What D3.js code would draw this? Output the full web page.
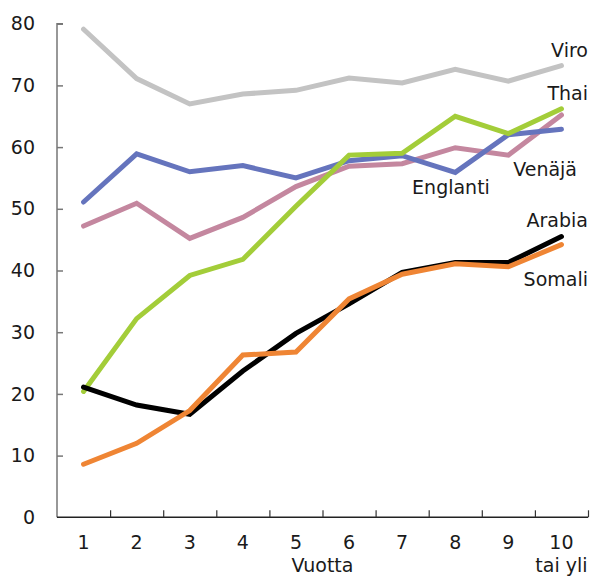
<!DOCTYPE html>
<html><head><meta charset="utf-8">
<script src="https://cdn.jsdelivr.net/npm/d3@7"></script>
<style>body{margin:0;background:#fff}svg{display:block}text{font-family:"DejaVu Sans",sans-serif;fill:#1a1a1a}</style>
</head><body><svg id="c" width="590" height="576"></svg>
<script>
const categories = ["1","2","3","4","5","6","7","8","9","10"];
const yTicks = [0,10,20,30,40,50,60,70,80];
const viro     = [79.1, 71.1, 67.0, 68.6, 69.2, 71.2, 70.4, 72.6, 70.7, 73.2];
const venaja   = [47.2, 50.9, 45.2, 48.6, 53.6, 56.9, 57.3, 59.9, 58.7, 65.2];
const englanti = [51.1, 58.9, 56.0, 57.0, 55.0, 57.8, 58.6, 55.9, 62.0, 62.9];
const thai     = [20.4, 32.2, 39.2, 41.8, 50.4, 58.7, 59.0, 65.0, 62.2, 66.2];
const arabia   = [21.1, 18.2, 16.7, 23.7, 29.8, 34.6, 39.7, 41.3, 41.3, 45.5];
const somali   = [8.6, 12.0, 17.3, 26.3, 26.8, 35.4, 39.4, 41.1, 40.6, 44.2];

const series = [
  {name:"Viro", values:viro, color:"#c3c3c3"},
  {name:"Venäjä", values:venaja, color:"#c4879f"},
  {name:"Englanti", values:englanti, color:"#6574bd"},
  {name:"Thai", values:thai, color:"#a3cd39"},
  {name:"Arabia", values:arabia, color:"#000000"},
  {name:"Somali", values:somali, color:"#ef8534"}
];
const labels = [
  {name:"Viro", x:588, y:57, anchor:"end"},
  {name:"Thai", x:588, y:100, anchor:"end"},
  {name:"Venäjä", x:577, y:176, anchor:"end"},
  {name:"Englanti", x:451, y:194, anchor:"middle"},
  {name:"Arabia", x:588, y:227, anchor:"end"},
  {name:"Somali", x:588, y:286, anchor:"end"}
];

const svg = d3.select("#c");
const L = 57, R = 588, T = 23.7, B = 517.3;
const x = d3.scaleBand().domain(categories).range([L, R]).padding(0);
const xb = d3.scaleLinear().domain([0, categories.length]).range([L, R]);
const y = d3.scaleLinear().domain([0, 80]).range([B, T]);

// y axis
const ya = svg.append("g").attr("transform", `translate(${L},0)`)
  .call(d3.axisRight(y).tickValues(yTicks).tickSize(6).tickFormat(""));
ya.select(".domain").attr("stroke", "#777").attr("stroke-width", 1.5).attr("d", `M6,${T}H0V${B}`);
ya.selectAll(".tick line").attr("stroke", "#777").attr("stroke-width", 1.5);
ya.selectAll(".tick").filter(d => d === 0).remove();
svg.append("g").selectAll("text").data(yTicks).join("text")
  .attr("x", 35).attr("y", d => y(d)).attr("dy", "0.35em")
  .attr("text-anchor", "end").style("font-size", "19px").text(d => d);

// x axis ticks at boundaries
const xa = svg.append("g").attr("transform", `translate(0,${B})`)
  .call(d3.axisTop(xb).tickValues(d3.range(1, categories.length + 1)).tickSize(7).tickFormat(""));
xa.select(".domain").attr("stroke", "#222").attr("stroke-width", 1.5).attr("d", `M${L},0H${R}`);
xa.selectAll(".tick line").attr("stroke", "#333").attr("stroke-width", 1.2);

// x labels
const xl = svg.append("g").attr("transform", `translate(0,${B})`)
  .call(d3.axisBottom(x).tickSize(0).tickPadding(0));
xl.select(".domain").remove();
xl.selectAll("text").attr("y", 32).attr("dy", 0).style("font-size", "19px").style("font-family", "DejaVu Sans").attr("fill", "#1a1a1a");

svg.append("text").attr("x", xb(5)).attr("y", 571.5).attr("text-anchor", "middle").style("font-size", "19px").text("Vuotta");
svg.append("text").attr("x", x("10") + x.bandwidth()/2).attr("y", 571.5).attr("text-anchor", "middle").style("font-size", "19px").text("tai yli");

// lines
const line = d3.line().x((d, i) => x(categories[i]) + x.bandwidth()/2).y(d => y(d));
svg.append("g").selectAll("path").data(series).join("path")
  .attr("d", d => line(d.values)).attr("fill", "none")
  .attr("stroke", d => d.color).attr("stroke-width", 5)
  .attr("stroke-linejoin", "miter").attr("stroke-linecap", "round");

svg.append("g").selectAll("text").data(labels).join("text")
  .attr("x", d => d.x).attr("y", d => d.y).attr("text-anchor", d => d.anchor)
  .style("font-size", "19px").text(d => d.name);
</script></body></html>
